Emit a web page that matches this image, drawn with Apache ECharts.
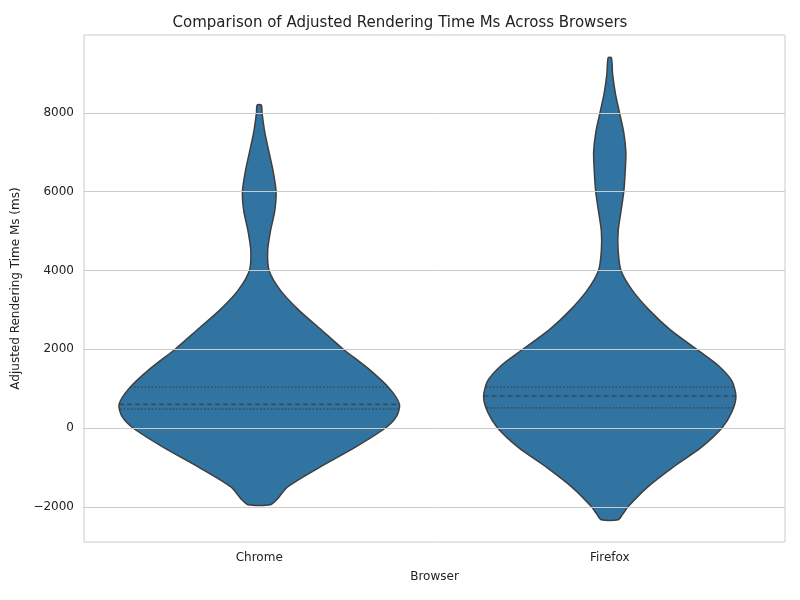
<!DOCTYPE html>
<html><head><meta charset="utf-8">
<script src="https://cdn.jsdelivr.net/npm/echarts@6/dist/echarts.min.js"></script>
<style>html,body{margin:0;background:#fff}#c{width:800px;height:600px}</style>
</head><body><div id="c"></div>
<script>
var browsers = ['Chrome', 'Firefox'];
// violin outline: value (ms) and relative half-width (1 = widest Chrome point)
var chromeValues = [-1950, -1800, -1500, -1000, -500, 0, 300, 600, 1000, 1500, 2000, 2500, 3000, 3500, 4000, 4500, 5000, 5500, 6000, 6500, 7000, 7500, 8000, 8200];
var chromeWidths = [0.08, 0.13, 0.2, 0.43, 0.68, 0.9, 0.98, 1.0, 0.93, 0.78, 0.6, 0.44, 0.28, 0.15, 0.07, 0.06, 0.08, 0.11, 0.12, 0.1, 0.07, 0.04, 0.02, 0.015];
var firefoxValues = [-2330, -2200, -2000, -1500, -1000, -500, 0, 400, 800, 1200, 1600, 2000, 2500, 3000, 3500, 4000, 4500, 5000, 5500, 6000, 6500, 7000, 7500, 8000, 8500, 9000, 9400];
var firefoxWidths = [0.06, 0.09, 0.13, 0.27, 0.45, 0.65, 0.8, 0.87, 0.9, 0.87, 0.77, 0.62, 0.43, 0.28, 0.16, 0.08, 0.06, 0.06, 0.08, 0.1, 0.11, 0.115, 0.1, 0.07, 0.04, 0.02, 0.012];
var quartiles = [[480, 600, 1040], [510, 810, 1040]];
var yTicks = [-2000, 0, 2000, 4000, 6000, 8000];

var profiles = [[chromeValues, chromeWidths], [firefoxValues, firefoxWidths]];

function widthAt(p, v) {
  var vs = p[0], ws = p[1];
  for (var i = 1; i < vs.length; i++) {
    if (v <= vs[i]) {
      var t = (v - vs[i - 1]) / (vs[i] - vs[i - 1]);
      return ws[i - 1] + t * (ws[i] - ws[i - 1]);
    }
  }
  return ws[ws.length - 1];
}

var chart = echarts.init(document.getElementById('c'));

function renderViolin(params, api) {
  var idx = api.value(0);
  var p = profiles[idx];
  var band = api.size([1, 0])[0];
  var scale = 0.4 * band;
  var left = [], right = [];
  for (var i = 0; i < p[0].length; i++) {
    var c = api.coord([idx, p[0][i]]);
    right.push([c[0] + p[1][i] * scale, c[1]]);
    left.unshift([c[0] - p[1][i] * scale, c[1]]);
  }
  var children = [{
    type: 'polygon',
    shape: { points: right.concat(left), smooth: 0.25 },
    style: { fill: '#3274a1', stroke: '#3f3f3f', lineWidth: 1.5 }
  }];
  quartiles[idx].forEach(function (q, k) {
    var c = api.coord([idx, q]);
    var w = widthAt(p, q) * scale;
    children.push({
      type: 'line',
      shape: { x1: c[0] - w, y1: c[1], x2: c[0] + w, y2: c[1] },
      style: { stroke: '#3f3f3f', lineWidth: 1.3, lineDash: k === 1 ? [5, 3] : [1.5, 2] }
    });
  });
  return { type: 'group', children: children };
}

chart.setOption({
  animation: false,
  title: {
    text: 'Comparison of Adjusted Rendering Time Ms Across Browsers',
    left: 'center', top: 11,
    textStyle: { fontSize: 15, fontWeight: 'normal', color: '#222', fontFamily: 'DejaVu Sans' }
  },
  grid: { left: 84, right: 15, top: 35, bottom: 58, show: true, borderColor: '#cccccc', borderWidth: 1 },
  xAxis: {
    type: 'category', data: browsers,
    name: 'Browser', nameLocation: 'middle', nameGap: 29,
    nameTextStyle: { fontSize: 12, color: '#222', fontFamily: 'DejaVu Sans' },
    axisLine: { show: false }, axisTick: { show: false },
    axisLabel: { fontSize: 12, color: '#222', margin: 10, fontFamily: 'DejaVu Sans' }
  },
  yAxis: {
    type: 'value', min: -2895, max: 9980,
    name: 'Adjusted Rendering Time Ms (ms)', nameLocation: 'middle', nameGap: 62,
    nameTextStyle: { fontSize: 12, color: '#222', fontFamily: 'DejaVu Sans' },
    axisLine: { show: false }, axisTick: { show: false }, splitLine: { show: false },
    axisLabel: {
      customValues: yTicks, fontSize: 12, color: '#222', margin: 10, fontFamily: 'DejaVu Sans',
      formatter: function (v) { return String(v).replace('-', '\u2212'); }
    }
  },
  series: [{
    type: 'line', data: [], silent: true,
    markLine: {
      symbol: 'none', silent: true, label: { show: false },
      lineStyle: { color: '#cccccc', type: 'solid', width: 1 },
      data: yTicks.map(function (v) { return { yAxis: v }; })
    }
  }, {
    type: 'custom', renderItem: renderViolin,
    data: browsers.map(function (b, i) { return [i]; }), z: 3
  }]
});
</script></body></html>
